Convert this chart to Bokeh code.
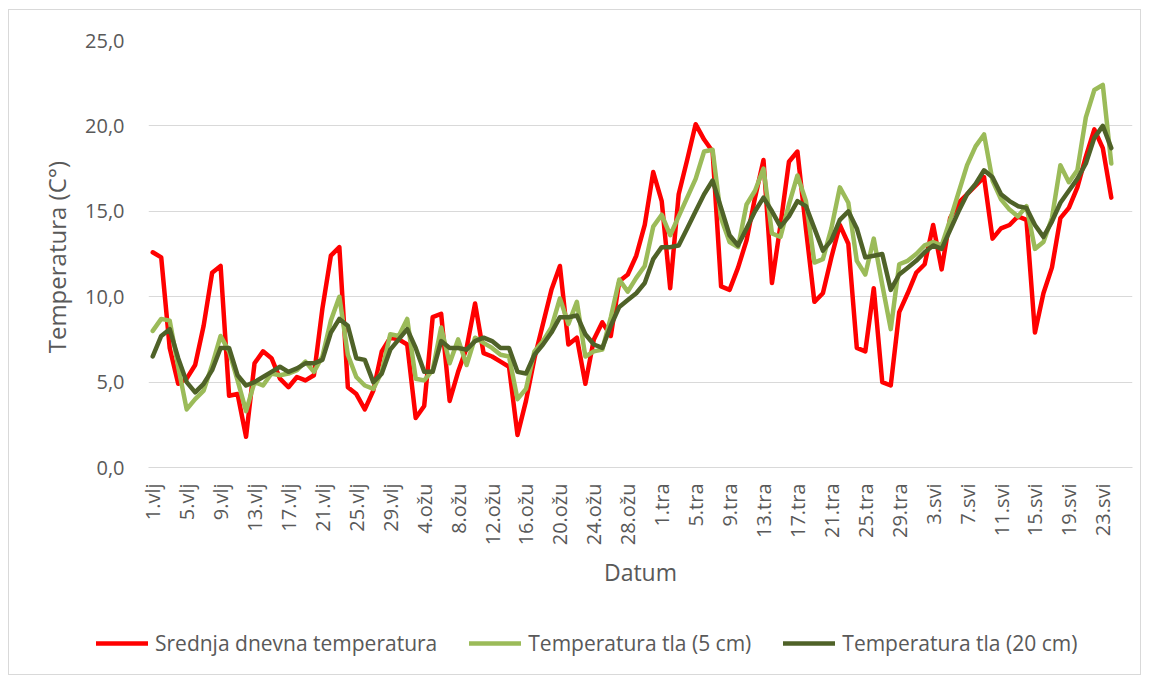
import math
from bokeh.plotting import figure
from bokeh.layouts import column
from bokeh.models import Range1d, FixedTicker, Legend, LegendItem, ColumnDataSource
from bokeh.embed import file_html
from bokeh.resources import INLINE

# ---- data ----
month_names = ["vlj", "ožu", "tra", "svi"]
month_days_on_axis = [29, 31, 30, 26]

tick_labels_x = ["1.vlj", "5.vlj", "9.vlj", "13.vlj", "17.vlj", "21.vlj", "25.vlj", "29.vlj",
                 "4.ožu", "8.ožu", "12.ožu", "16.ožu", "20.ožu", "24.ožu", "28.ožu",
                 "1.tra", "5.tra", "9.tra", "13.tra", "17.tra", "21.tra", "25.tra", "29.tra",
                 "3.svi", "7.svi", "11.svi", "15.svi", "19.svi", "23.svi"]

y_ticks = [0, 5, 10, 15, 20, 25]
y_tick_labels = ["0,0", "5,0", "10,0", "15,0", "20,0", "25,0"]

srednja = [12.6, 12.3, 7.0, 4.9, 5.2, 6.0, 8.3, 11.4, 11.8, 4.2,
           4.3, 1.8, 6.1, 6.8, 6.4, 5.2, 4.7, 5.3, 5.1, 5.4,
           9.3, 12.4, 12.9, 4.7, 4.3, 3.4, 4.5, 6.8, 7.6, 7.5,
           7.2, 2.9, 3.6, 8.8, 9.0, 3.9, 5.6, 7.0, 9.6, 6.7,
           6.5, 6.2, 5.9, 1.9, 3.9, 6.4, 8.4, 10.4, 11.8, 7.2,
           7.6, 4.9, 7.5, 8.5, 7.7, 10.9, 11.3, 12.4, 14.2, 17.3,
           15.6, 10.5, 16.0, 18.0, 20.1, 19.2, 18.5, 10.6, 10.4, 11.7,
           13.3, 15.8, 18.0, 10.8, 14.2, 17.9, 18.5, 14.0, 9.7, 10.2,
           12.3, 14.2, 13.1, 7.0, 6.8, 10.5, 5.0, 4.8, 9.1, 10.2,
           11.4, 11.9, 14.2, 11.6, 14.6, 15.5, 16.0, 16.5, 17.0, 13.4,
           14.0, 14.2, 14.7, 14.5, 7.9, 10.2, 11.7, 14.6, 15.2, 16.4,
           18.2, 19.8, 18.7, 15.8]

tlo_5cm = [8.0, 8.7, 8.6, 5.9, 3.4, 4.0, 4.5, 6.0, 7.7, 6.8,
           5.1, 3.3, 5.0, 4.8, 5.5, 5.4, 5.5, 5.7, 6.2, 5.6,
           6.5, 8.6, 10.0, 6.6, 5.3, 4.8, 4.6, 5.6, 7.8, 7.7,
           8.7, 5.2, 5.1, 5.7, 8.2, 6.1, 7.5, 6.0, 7.6, 7.3,
           7.0, 6.6, 6.5, 4.0, 4.6, 6.8, 7.4, 8.2, 9.9, 8.4,
           9.7, 6.5, 6.8, 6.9, 8.8, 11.0, 10.3, 11.1, 11.8, 14.1,
           14.8, 13.6, 14.7, 15.8, 16.9, 18.5, 18.6, 14.6, 13.2, 12.9,
           15.4, 16.2, 17.5, 13.7, 13.5, 15.4, 17.1, 15.6, 12.0, 12.2,
           14.0, 16.4, 15.5, 12.1, 11.3, 13.4, 10.7, 8.1, 11.9, 12.1,
           12.5, 13.0, 13.2, 13.0, 14.5, 16.1, 17.7, 18.8, 19.5, 16.8,
           15.7, 15.1, 14.7, 15.3, 12.8, 13.2, 14.6, 17.7, 16.7, 17.4,
           20.5, 22.1, 22.4, 17.8]

tlo_20cm = [6.5, 7.7, 8.1, 6.4, 5.0, 4.4, 4.9, 5.7, 7.0, 7.0,
            5.4, 4.8, 5.0, 5.3, 5.6, 5.9, 5.6, 5.8, 6.1, 6.1,
            6.3, 7.9, 8.7, 8.3, 6.4, 6.3, 5.0, 5.5, 6.9, 7.5,
            8.1, 7.0, 5.6, 5.6, 7.4, 7.0, 7.0, 6.9, 7.4, 7.6,
            7.4, 7.0, 7.0, 5.6, 5.5, 6.6, 7.2, 7.9, 8.8, 8.8,
            8.9, 7.8, 7.2, 7.0, 8.3, 9.4, 9.8, 10.2, 10.8, 12.2,
            12.9, 12.9, 13.0, 14.0, 15.0, 16.0, 16.8, 15.2, 13.6, 13.0,
            14.0, 15.0, 15.8, 15.0, 14.1, 14.7, 15.6, 15.3, 14.0, 12.7,
            13.3, 14.5, 15.0, 14.0, 12.3, 12.4, 12.5, 10.4, 11.3, 11.7,
            12.1, 12.6, 13.0, 12.8, 13.9, 15.0, 16.0, 16.6, 17.4, 17.0,
            16.0, 15.6, 15.3, 15.2, 14.2, 13.5, 14.4, 15.5, 16.2, 16.9,
            17.8, 19.3, 20.0, 18.7]

series_names = ["Srednja dnevna temperatura", "Temperatura tla (5 cm)", "Temperatura tla (20 cm)"]
series_colors = ["#FF0000", "#9BBB59", "#4F6228"]

# ---- build ----
dates = [f"{d}.{m}" for m, n in zip(month_names, month_days_on_axis) for d in range(1, n + 1)]
n_cat = len(dates)
x = list(range(len(srednja)))

FONT = "Open Sans"
TXT = "#595959"
GRID = "#D9D9D9"
LW = 4.5

p = figure(frame_width=984, frame_height=427, output_backend="svg", toolbar_location=None,
           x_range=Range1d(-0.5, n_cat - 0.5), y_range=Range1d(0, 25),
           min_border_left=139, min_border_right=8, min_border_top=30, min_border_bottom=120)
p.outline_line_color = None
p.background_fill_color = "white"
p.border_fill_color = "white"

for vals, col in zip([srednja, tlo_5cm, tlo_20cm], series_colors):
    src = ColumnDataSource(dict(x=x, y=vals))
    p.line("x", "y", source=src, line_color=col, line_width=LW, line_join="round", line_cap="round")

# x axis
tick_pos = [dates.index(lbl) for lbl in tick_labels_x]
p.xaxis.ticker = FixedTicker(ticks=tick_pos)
p.xaxis.major_label_overrides = {tp: lbl for tp, lbl in zip(tick_pos, tick_labels_x)}
p.xaxis.major_label_orientation = math.pi / 2
p.xaxis.major_tick_line_color = None
p.xaxis.minor_tick_line_color = None
p.xaxis.axis_line_color = GRID
p.xaxis.major_label_text_font = FONT
p.xaxis.major_label_text_font_size = "20px"
p.xaxis.major_label_text_color = TXT
p.xaxis.major_label_standoff = 10
p.xaxis.axis_label = "Datum"
p.xaxis.axis_label_text_font = FONT
p.xaxis.axis_label_text_font_size = "23px"
p.xaxis.axis_label_text_font_style = "normal"
p.xaxis.axis_label_text_color = TXT
p.xaxis.axis_label_standoff = 8

# y axis
p.yaxis.ticker = FixedTicker(ticks=y_ticks)
p.yaxis.major_label_overrides = {t: l for t, l in zip(y_ticks, y_tick_labels)}
p.yaxis.major_tick_line_color = None
p.yaxis.minor_tick_line_color = None
p.yaxis.axis_line_color = None
p.yaxis.major_label_text_font = FONT
p.yaxis.major_label_text_font_size = "20px"
p.yaxis.major_label_text_color = TXT
p.yaxis.major_label_standoff = 18
p.yaxis.axis_label = "Temperatura  (C°)"
p.yaxis.axis_label_text_font = FONT
p.yaxis.axis_label_text_font_size = "24px"
p.yaxis.axis_label_text_font_style = "normal"
p.yaxis.axis_label_text_color = TXT
p.yaxis.axis_label_standoff = 9

p.xgrid.grid_line_color = None
p.ygrid.grid_line_color = GRID
p.ygrid.grid_line_width = 1

# ---- legend strip below the chart ----
LEG_W = 139 + 984 + 8
LEG_H = 83
q = figure(frame_width=LEG_W, frame_height=LEG_H, output_backend="svg", toolbar_location=None,
           x_range=Range1d(0, 1), y_range=Range1d(0, 1),
           min_border=0, x_axis_type=None, y_axis_type=None)
q.outline_line_color = None
q.xgrid.visible = False
q.ygrid.visible = False
q.background_fill_color = "white"
q.border_fill_color = "white"

leg_renderers = []
for name, vals, col in zip(series_names, [srednja, tlo_5cm, tlo_20cm], series_colors):
    # same series, placed outside the strip's visible range; used only as legend keys
    src = ColumnDataSource(dict(x=[-10 - i for i in range(len(vals))], y=[-10] * len(vals)))
    r = q.line("x", "y", source=src, line_color=col, line_width=LW, line_cap="round")
    leg_renderers.append(r)

legend = Legend(items=[LegendItem(label=n, renderers=[r]) for n, r in zip(series_names, leg_renderers)],
                orientation="horizontal", location=(87, 17),
                label_text_font=FONT, label_text_font_size="21px", label_text_color=TXT,
                glyph_width=52, glyph_height=20, label_standoff=7, spacing=32,
                padding=4, margin=0, border_line_color=None, background_fill_alpha=0)
q.add_layout(legend, "center")

layout = column(p, q, spacing=0)
layout.styles = {"border": "1px solid #D9D9D9", "margin-left": "8px", "margin-top": "9px"}

open("out.html", "w").write(file_html(layout, INLINE))
